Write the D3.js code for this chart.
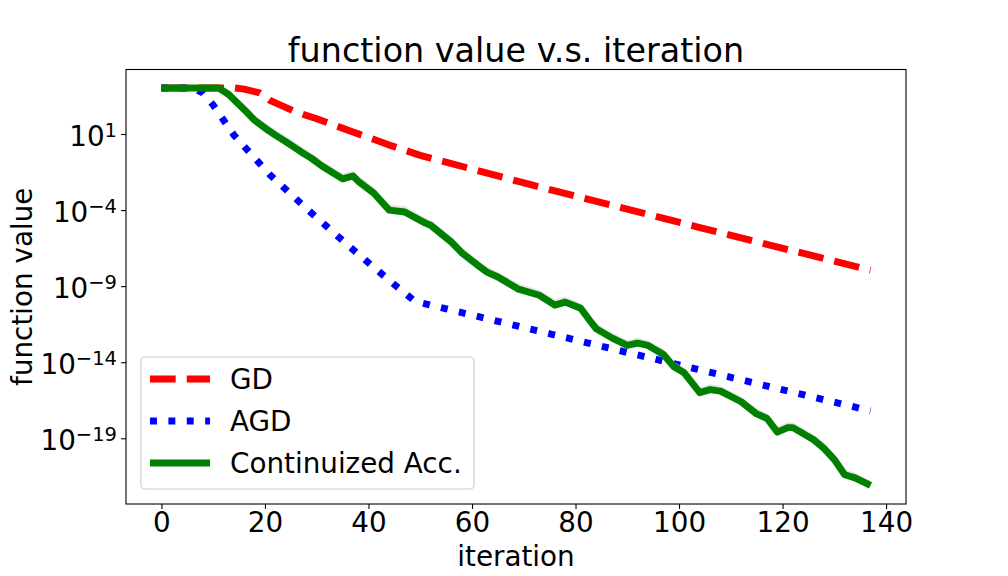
<!DOCTYPE html>
<html><head><meta charset="utf-8">
<script src="https://cdn.jsdelivr.net/npm/d3@7"></script>
<style>
body{margin:0;background:#fff;}
svg text{font-family:"DejaVu Sans",sans-serif;fill:#000;}
</style></head>
<body><svg id="c" width="1008" height="576"></svg>
<script>
// ---- data (log10 of function value) ----
const gdIter  = [0,14,16,19,21,23,26,30,37,44,50,71,104,137];
const gdLog   = [4.03,4.03,3.95,3.7,3.2,2.9,2.45,2.0,1.13,0.28,-0.4,-2.3,-5.15,-7.95];
const agdIter = [0,6,8,10,14,21,29,37,45,49,85,137];
const agdLog  = [4.03,4.03,3.7,2.9,0.93,-1.7,-4.2,-6.6,-8.9,-10.0,-12.95,-17.2];
const accIter = [0,11,13,16,18,20,22,24,27,29,31,35,37,38,41,44,47,51,52,56,58,61,63,65,69,73,76,78,81,83,84,87,90,92,94,97,99,101,104,106,108,112,115,117,119,121,122,126,128,130,132,134,137];
const accLog  = [4.03,4.03,3.6,2.6,1.9,1.39,0.93,0.5,-0.18,-0.6,-1.1,-1.95,-1.76,-2.1,-2.88,-4.0,-4.13,-4.86,-5.0,-6.1,-6.8,-7.6,-8.1,-8.4,-9.2,-9.6,-10.25,-10.05,-10.45,-11.37,-11.8,-12.4,-12.9,-12.75,-12.9,-13.5,-14.3,-14.7,-16.0,-15.8,-15.9,-16.6,-17.4,-17.7,-18.6,-18.3,-18.3,-19.1,-19.66,-20.4,-21.4,-21.6,-22.1];
const accHiLog = [4.03,4.05,3.85,2.95,2.25,1.75,1.3,0.85,0.2,-0.25,-0.75,-1.6,-1.4,-1.75,-2.5,-3.65,-3.75,-4.5,-4.65,-5.75,-6.45,-7.25,-7.75,-8.05,-8.85,-9.25,-9.9,-9.7,-10.1,-11.0,-11.45,-12.05,-12.55,-12.4,-12.55,-13.15,-13.95,-14.35,-15.65,-15.45,-15.55,-16.25,-17.05,-17.35,-18.25,-17.95,-17.95,-18.75,-19.3,-20.05,-21.05,-21.25,-21.8];
const accLoLog = [4.03,4.0,3.5,2.5,1.8,1.3,0.85,0.4,-0.3,-0.7,-1.2,-2.05,-1.85,-2.2,-2.95,-4.1,-4.2,-4.95,-5.1,-6.2,-6.9,-7.7,-8.2,-8.5,-9.3,-9.7,-10.35,-10.15,-10.55,-11.45,-11.9,-12.5,-13.0,-12.85,-13.0,-13.6,-14.4,-14.8,-16.1,-15.9,-16.0,-16.7,-17.5,-17.8,-18.7,-18.4,-18.4,-19.2,-19.75,-20.5,-21.5,-21.7,-22.2];
const xTicks = [0,20,40,60,80,100,120,140];
const yTickExps = [1,-4,-9,-14,-19];
const seriesNames = ["GD","AGD","Continuized Acc."];
const titleText = "function value v.s. iteration";
const xLabel = "iteration";
const yLabel = "function value";

// ---- layout ----
const L=126,R=906,T=69.5,B=504;
const svg=d3.select("#c");
const x=d3.scaleLinear().domain([-6.85,143.85]).range([L,R]);
const y=d3.scaleLog().domain([Math.pow(10,-23.32),Math.pow(10,5.24)]).range([B,T]);
const pts=(it,lg)=>it.map((d,i)=>[d,Math.pow(10,lg[i])]);
const line=d3.line().x(d=>x(d[0])).y(d=>y(d[1]));
svg.append("clipPath").attr("id","clp").append("rect").attr("x",L).attr("y",T).attr("width",R-L).attr("height",B-T);
const g=svg.append("g").attr("clip-path","url(#clp)");

const lw=6.94;
g.append("path").datum(pts(gdIter,gdLog)).attr("d",line).attr("fill","none")
 .attr("stroke","#ff0000").attr("stroke-width",lw).attr("stroke-dasharray",`${3.7*lw},${1.6*lw}`);
g.append("path").datum(pts(agdIter,agdLog)).attr("d",line).attr("fill","none")
 .attr("stroke","#0000ff").attr("stroke-width",lw).attr("stroke-dasharray",`${1*lw},${1.65*lw}`);
const area=d3.area().x((d,i)=>x(accIter[i])).y0((d,i)=>y(Math.pow(10,accLoLog[i]))).y1((d,i)=>y(Math.pow(10,accHiLog[i])));
g.append("path").datum(accIter).attr("d",area).attr("fill","#c8c8c8").attr("fill-opacity",0.5);
g.append("path").datum(pts(accIter,accLog)).attr("d",line).attr("fill","none")
 .attr("stroke","#008000").attr("stroke-width",lw).attr("stroke-linejoin","round");

// ---- axes ----
const xa=svg.append("g").attr("transform",`translate(0,${B})`)
 .call(d3.axisBottom(x).tickValues(xTicks).tickSize(4.9).tickPadding(4.9).tickFormat(d3.format("d")));
xa.select(".domain").remove();
xa.selectAll("line").attr("stroke","#000").attr("stroke-width",1.1);
xa.selectAll("text").attr("font-size","27.8px").attr("dy",null).attr("y",27.5)
 .attr("font-family","DejaVu Sans").attr("fill","#000");

const yTickVals=yTickExps.map(e=>Math.pow(10,e));
const ya=svg.append("g").attr("transform",`translate(${L},0)`)
 .call(d3.axisLeft(y).tickValues(yTickVals).tickSize(4.9).tickFormat(""));
ya.select(".domain").remove();
ya.selectAll("line").attr("stroke","#000").attr("stroke-width",1.1);
ya.selectAll(".tick").each(function(d,i){
  const t=d3.select(this).append("text").attr("text-anchor","end").attr("x",-9).attr("y",11.5)
    .attr("font-size","27.8px").attr("fill","#000");
  t.append("tspan").text("10");
  t.append("tspan").attr("font-size","19.5px").attr("dy",-9).text(String(yTickExps[i]).replace("-","\u2212"));
});

svg.append("rect").attr("x",L).attr("y",T).attr("width",R-L).attr("height",B-T)
 .attr("fill","none").attr("stroke","#000").attr("stroke-width",1.1);

// ---- texts ----
svg.append("text").attr("x",(L+R)/2).attr("y",62).attr("text-anchor","middle").attr("font-size","33.4px").text(titleText);
svg.append("text").attr("x",(L+R)/2).attr("y",566).attr("text-anchor","middle").attr("font-size","27.8px").text(xLabel);
svg.append("text").attr("transform",`translate(32,${(T+B)/2}) rotate(-90)`).attr("text-anchor","middle").attr("font-size","27.8px").text(yLabel);

// ---- legend ----
const lg=svg.append("g");
lg.append("rect").attr("x",141).attr("y",357).attr("width",333).attr("height",132).attr("rx",4)
 .attr("fill","#fff").attr("fill-opacity",0.8).attr("stroke","#cccccc").attr("stroke-width",1.1);
const rowsY=[379,421,463];
const styles=[{c:"#ff0000",da:`${3.7*lw},${1.6*lw}`},{c:"#0000ff",da:`${1*lw},${1.65*lw}`},{c:"#008000",da:null}];
seriesNames.forEach((n,i)=>{
  const p=lg.append("path").attr("d",d3.line()([[150,rowsY[i]],[210,rowsY[i]]])).attr("stroke",styles[i].c)
   .attr("stroke-width",lw).attr("fill","none");
  if(styles[i].da) p.attr("stroke-dasharray",styles[i].da);
  lg.append("text").attr("x",230).attr("y",rowsY[i]+9.5).attr("font-size","27.8px").text(n);
});
</script></body></html>
